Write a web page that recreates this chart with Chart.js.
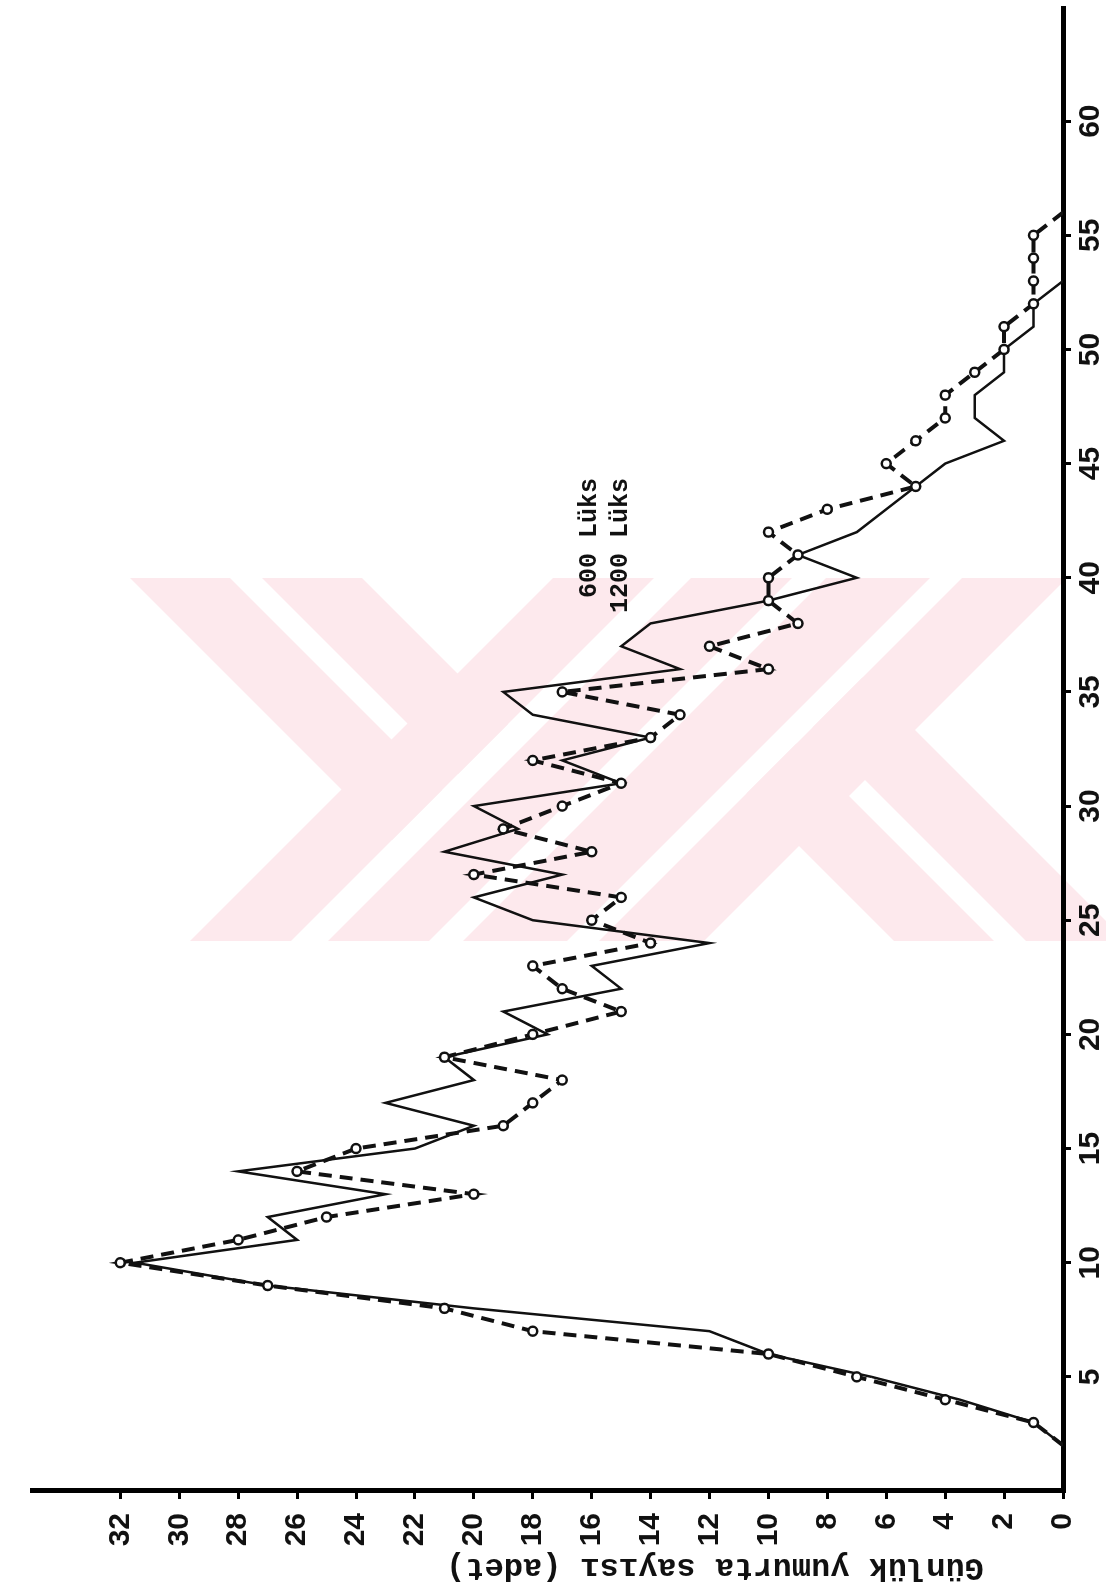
<!DOCTYPE html>
<html>
<head>
<meta charset="utf-8">
<title>Günlük yumurta sayısı</title>
<script src="https://cdn.jsdelivr.net/npm/chart.js@4/dist/chart.umd.min.js"></script>
<style>
  html, body { margin: 0; padding: 0; background: #fff; overflow: hidden; width: 1106px; height: 1596px; }
  /* the chart is laid out landscape and turned a quarter turn counter-clockwise onto the page */
  #wrap { position: absolute; left: 0; top: 0; width: 1596px; height: 1106px;
          transform-origin: 0 0; transform: translate(0, 1596px) rotate(-90deg); }
  canvas { display: block; }
</style>
</head>
<body>
<div id="wrap"><canvas id="c" width="1596" height="1106"></canvas></div>
<script>
// day of the laying period
const days = [2, 3, 4, 5, 6, 7, 8, 9, 10, 11, 12, 13, 14, 15, 16, 17, 18, 19, 20, 21,
              22, 23, 24, 25, 26, 27, 28, 29, 30, 31, 32, 33, 34, 35, 36, 37, 38, 39, 40, 41,
              42, 43, 44, 45, 46, 47, 48, 49, 50, 51, 52, 53, 54, 55, 56];

// daily egg count under 600 lux
const eggs600 = [0, 1, 3.5, 6.5, 10, 12, 20, 27, 31.5, 26, 27, 23, 28, 22, 20, 23, 20, 21, 17.5, 19,
                 15, 16, 12, 18, 20, 17, 21, 18.5, 20, 15, 17, 14, 18, 19, 13, 15, 14, 10, 7, 9,
                 7, 6, 5, 4, 2, 3, 3, 2, 2, 1, 1, 0, null, null, null];

// daily egg count under 1200 lux
const eggs1200 = [0, 1, 4, 7, 10, 18, 21, 27, 32, 28, 25, 20, 26, 24, 19, 18, 17, 21, 18, 15,
                  17, 18, 14, 16, 15, 20, 16, 19, 17, 15, 18, 14, 13, 17, 10, 12, 9, 10, 10, 9,
                  10, 8, 5, 6, 5, 4, 4, 3, 2, 2, 1, 1, 1, 1, 0];

const seriesLabels = ['600 Lüks', '1200 Lüks'];
const dayTicks = [5, 10, 15, 20, 25, 30, 35, 40, 45, 50, 55, 60];
const countTicks = [0, 2, 4, 6, 8, 10, 12, 14, 16, 18, 20, 22, 24, 26, 28, 30, 32];
const yTitle = 'Günlük yumurta sayısı (adet)';

const ink = '#111';
const toPoints = (vals) => days.map((d, i) => ({ x: d, y: vals[i] }));

// faint background stamp, given in upright page pixels:
// four rising bands (edges on the lower row) and two falling pairs,
// one meeting the first band from the upper left, one the last band from the lower right
const stamp = {
  top: 578, bottom: 941, color: '#fde9ed',
  rising: [[190, 291], [328, 429], [463, 567], [599, 704]],
  fallingUpper: [[130, 230], [262, 362]],   // edges on the upper row
  fallingLower: [[894, 994], [1026, 1126]]  // edges on the lower row
};

const background = {
  id: 'background',
  beforeDraw(chart) {
    const ctx = chart.ctx;
    const { top, bottom } = stamp;
    const rise = bottom - top;
    ctx.save();
    // upright page coordinates -> landscape canvas coordinates
    ctx.setTransform(0, 1, -1, 0, chart.width, 0);
    ctx.fillStyle = stamp.color;
    const quad = (p) => { ctx.beginPath(); p.forEach(([x, y], i) => i ? ctx.lineTo(x, y) : ctx.moveTo(x, y)); ctx.closePath(); ctx.fill(); };

    stamp.rising.forEach(([a, b]) => quad([[a, bottom], [b, bottom], [b + rise, top], [a + rise, top]]));

    // upper-left pair, kept left of the first band's right edge
    const r0 = stamp.rising[0][1];
    ctx.save();
    quadClip([[0, top], [r0 + rise, top], [r0, bottom], [0, bottom]]);
    stamp.fallingUpper.forEach(([a, b]) => quad([[a, top], [b, top], [b + rise, bottom], [a + rise, bottom]]));
    ctx.restore();

    // lower-right pair, kept right of the last band's left edge
    const l3 = stamp.rising[3][0];
    ctx.save();
    quadClip([[l3 + rise, top], [2000, top], [2000, bottom], [l3, bottom]]);
    stamp.fallingLower.forEach(([a, b]) => quad([[a - rise, top], [b - rise, top], [b, bottom], [a, bottom]]));
    ctx.restore();

    ctx.restore();

    function quadClip(p) {
      ctx.beginPath();
      p.forEach(([x, y], i) => i ? ctx.lineTo(x, y) : ctx.moveTo(x, y));
      ctx.closePath();
      ctx.clip();
    }
  }
};

// axis title and series key, set in a typewriter face
const annotate = {
  id: 'annotate',
  afterDraw(chart) {
    const ctx = chart.ctx;
    ctx.save();
    ctx.fillStyle = ink;
    ctx.font = 'bold 32px "Liberation Mono", monospace';
    ctx.textAlign = 'center';
    ctx.textBaseline = 'middle';
    ctx.translate(29, 715);
    ctx.rotate(-Math.PI / 2);
    ctx.fillText(yTitle, 0, 0);
    ctx.restore();

    ctx.save();
    ctx.fillStyle = ink;
    ctx.font = 'bold 25px "Liberation Mono", monospace';
    ctx.textAlign = 'right';
    ctx.textBaseline = 'middle';
    chart.data.datasets.forEach((ds, i) => {
      ctx.fillText(ds.label, 1118, 590 + i * 31);
    });
    ctx.restore();
  }
};

const tickMarks = { display: true, drawOnChartArea: false, drawTicks: true,
                    tickLength: 8, tickWidth: 3, tickColor: '#000', color: '#000' };

new Chart(document.getElementById('c'), {
  type: 'line',
  data: {
    datasets: [
      {
        label: seriesLabels[0],
        data: toPoints(eggs600),
        borderColor: ink,
        borderWidth: 2.5,
        pointRadius: 0,
        tension: 0,
        spanGaps: false,
        order: 2
      },
      {
        label: seriesLabels[1],
        data: toPoints(eggs1200),
        borderColor: ink,
        borderWidth: 4,
        borderDash: [13, 8],
        pointRadius: (c) => (c.dataIndex === 0 || c.dataIndex === days.length - 1) ? 0 : 4.5,
        pointBorderWidth: 2.5,
        pointBorderColor: ink,
        pointBackgroundColor: '#fff',
        tension: 0,
        order: 1
      }
    ]
  },
  options: {
    responsive: false,
    animation: false,
    devicePixelRatio: 1,
    layout: { padding: { top: 10, right: 7, left: 0, bottom: 0 } },
    plugins: { legend: { display: false }, tooltip: { enabled: false } },
    scales: {
      x: {
        type: 'linear',
        min: 0,
        max: 65,
        afterBuildTicks: (s) => { s.ticks = dayTicks.map(v => ({ value: v })); },
        afterFit: (s) => { s.height = 43; },
        border: { display: true, color: '#000', width: 5 },
        grid: tickMarks,
        ticks: { color: ink, padding: 2, maxRotation: 0, autoSkip: false,
                 font: { family: '"Liberation Sans", Arial, sans-serif', size: 30, weight: 'bold' } }
      },
      y: {
        type: 'linear',
        min: 0,
        max: 35,
        afterBuildTicks: (s) => { s.ticks = countTicks.map(v => ({ value: v })); },
        afterFit: (s) => { s.width = 105; },
        border: { display: true, color: '#000', width: 5 },
        grid: tickMarks,
        ticks: { color: ink, padding: 14, autoSkip: false,
                 font: { family: '"Liberation Sans", Arial, sans-serif', size: 30, weight: 'bold' } }
      }
    }
  },
  plugins: [background, annotate]
});
</script>
</body>
</html>
